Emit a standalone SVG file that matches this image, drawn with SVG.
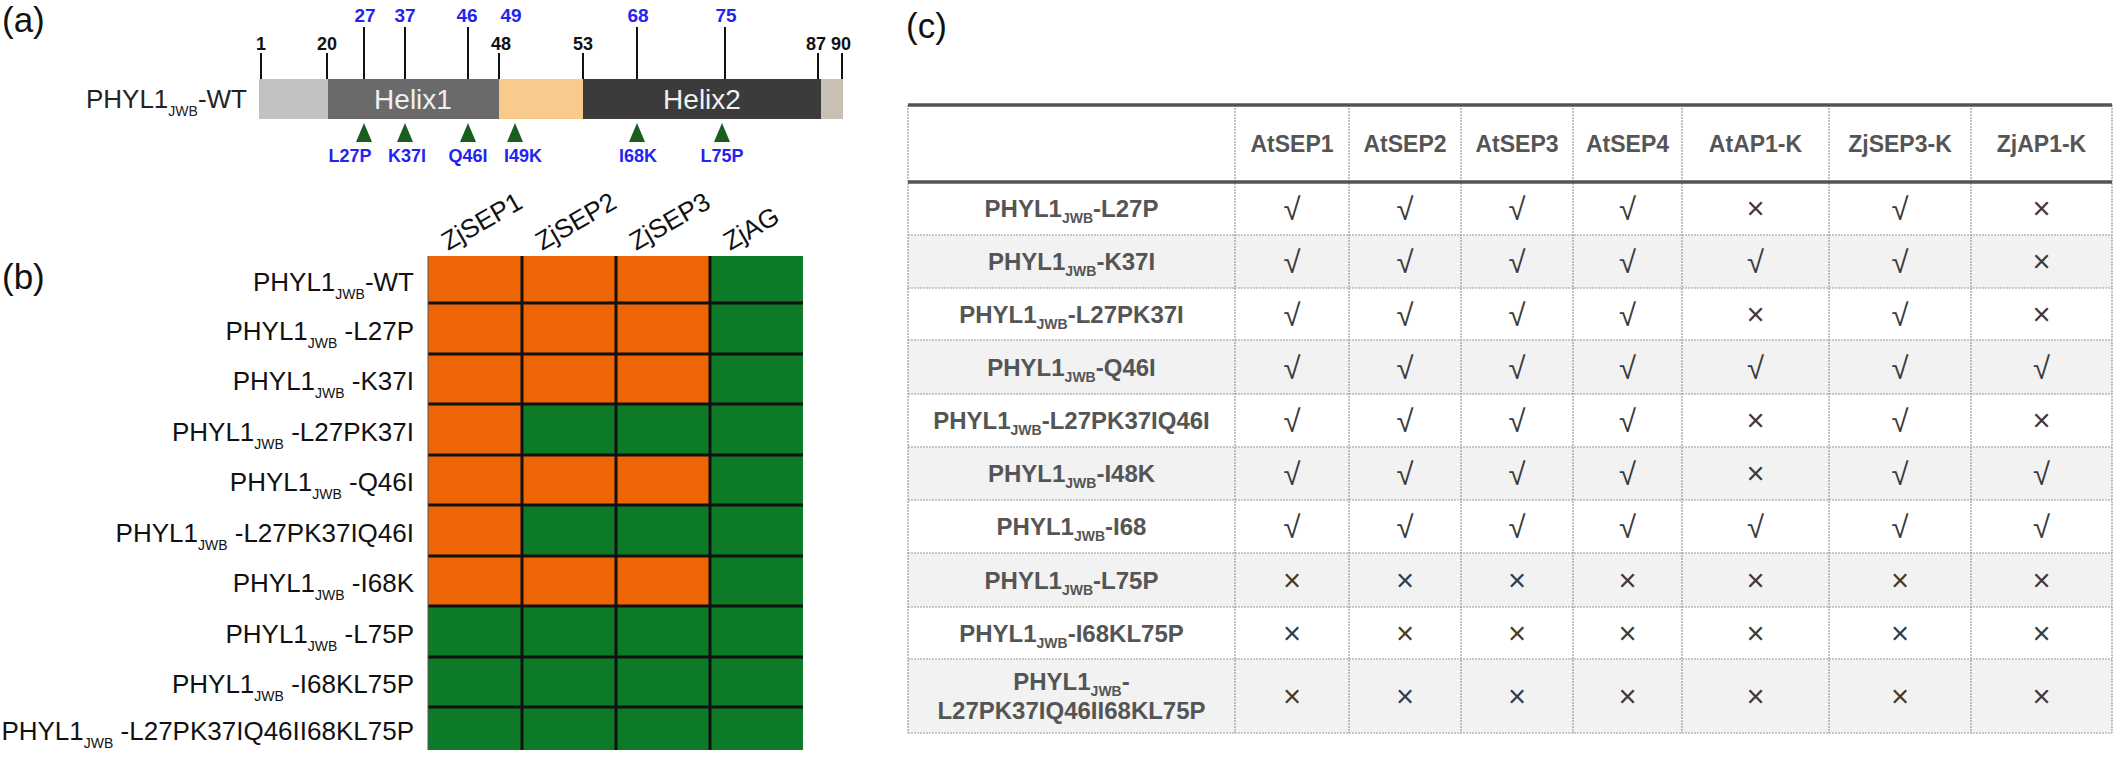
<svg xmlns="http://www.w3.org/2000/svg" width="2118" height="759" viewBox="0 0 2118 759">
<style>
text{font-family:"Liberation Sans",Arial,"DejaVu Sans",sans-serif}
.pl{font-size:35px;fill:#111}
.bn{font-size:19px;font-weight:bold;fill:#2424f0;text-anchor:middle}
.kn{font-size:18px;font-weight:bold;fill:#111;text-anchor:middle}
.ml{font-size:18px;font-weight:bold;fill:#2424f0;text-anchor:middle}
.tk{stroke:#111;stroke-width:2}
.tri{fill:#1a5e1e}
.hx{font-size:28px;fill:#f0f0f0;text-anchor:middle}
.rl{font-size:26px;fill:#111;text-anchor:end}
.sub{font-size:14px}
.ch{font-size:26px;fill:#111}
.o{fill:#ed6505}
.g{fill:#0c7a26}
.gl{stroke:#111;stroke-width:3}
.th{font-size:23px;font-weight:bold;fill:#555;text-anchor:middle}
.tl{font-size:24px;font-weight:bold;fill:#555;text-anchor:middle}
.tsub{font-size:14px}
.mk{font-size:31px;fill:#3a3a3a;text-anchor:middle}
.dl{stroke:#9a9a9a;stroke-width:1.2;stroke-dasharray:2 1}
.tb{stroke:#555;stroke-width:3.5}
</style>

<g id="panel-a">
  <text class="pl" x="2" y="32">(a)</text>
  <text x="247" y="108" style="font-size:26px;fill:#222;text-anchor:end">PHYL1<tspan class="sub" dy="8">JWB</tspan><tspan dy="-8">-WT</tspan></text>
  <g id="protein-bar">
    <rect x="259" y="79" width="69" height="40" fill="#c2c2c2"/>
    <rect x="328" y="79" width="171" height="40" fill="#6a6a6a"/>
    <rect x="499" y="79" width="84" height="40" fill="#f8ca8c"/>
    <rect x="583" y="79" width="238" height="40" fill="#3b3b3b"/>
    <rect x="821" y="79" width="22" height="40" fill="#c9c0b4"/>
    <text class="hx" x="413" y="109">Helix1</text>
    <text class="hx" x="702" y="109">Helix2</text>
  </g>
  <g id="ticks">
    <line class="tk" x1="261" y1="53" x2="261" y2="79"/>
    <line class="tk" x1="327" y1="53" x2="327" y2="79"/>
    <line class="tk" x1="499" y1="53" x2="499" y2="79"/>
    <line class="tk" x1="583" y1="53" x2="583" y2="79"/>
    <line class="tk" x1="818" y1="53" x2="818" y2="79"/>
    <line class="tk" x1="842" y1="53" x2="842" y2="79"/>
    <line class="tk" x1="364" y1="27" x2="364" y2="79"/>
    <line class="tk" x1="405" y1="27" x2="405" y2="79"/>
    <line class="tk" x1="468" y1="27" x2="468" y2="79"/>
    <line class="tk" x1="637" y1="27" x2="637" y2="79"/>
    <line class="tk" x1="725" y1="27" x2="725" y2="79"/>
    <text class="kn" x="261" y="50">1</text>
    <text class="kn" x="327" y="50">20</text>
    <text class="kn" x="501" y="50">48</text>
    <text class="kn" x="583" y="50">53</text>
    <text class="kn" x="816" y="50">87</text>
    <text class="kn" x="841" y="50">90</text>
    <text class="bn" x="365" y="22">27</text>
    <text class="bn" x="405" y="22">37</text>
    <text class="bn" x="467" y="22">46</text>
    <text class="bn" x="511" y="22">49</text>
    <text class="bn" x="638" y="22">68</text>
    <text class="bn" x="726" y="22">75</text>
  </g>
  <g id="mutations">
    <polygon class="tri" points="356,142 372,142 364,123"/>
    <polygon class="tri" points="397,142 413,142 405,123"/>
    <polygon class="tri" points="460,142 476,142 468,123"/>
    <polygon class="tri" points="507,142 523,142 515,123"/>
    <polygon class="tri" points="629,142 645,142 637,123"/>
    <polygon class="tri" points="714,142 730,142 722,123"/>
    <text class="ml" x="350" y="162">L27P</text>
    <text class="ml" x="407" y="162">K37I</text>
    <text class="ml" x="468" y="162">Q46I</text>
    <text class="ml" x="523" y="162">I49K</text>
    <text class="ml" x="638" y="162">I68K</text>
    <text class="ml" x="722" y="162">L75P</text>
  </g>
</g>

<g id="panel-b">
  <text class="pl" x="2" y="289">(b)</text>
  <g id="col-headers">
    <text class="ch" transform="translate(448,251) rotate(-30)">ZjSEP1</text>
    <text class="ch" transform="translate(542,251) rotate(-30)">ZjSEP2</text>
    <text class="ch" transform="translate(636,251) rotate(-30)">ZjSEP3</text>
    <text class="ch" transform="translate(730,251) rotate(-30)">ZjAG</text>
  </g>
  <g id="heatmap">
    <rect class="g" x="428" y="256" width="375" height="494"/>
    <rect class="o" x="428" y="256" width="282" height="148"/>
    <rect class="o" x="428" y="404" width="94" height="51"/>
    <rect class="o" x="428" y="455" width="282" height="50"/>
    <rect class="o" x="428" y="505" width="94" height="51"/>
    <rect class="o" x="428" y="556" width="282" height="50"/>
    <line class="gl" x1="522" y1="256" x2="522" y2="750"/>
    <line class="gl" x1="616" y1="256" x2="616" y2="750"/>
    <line class="gl" x1="710" y1="256" x2="710" y2="750"/>
    <line class="gl" x1="428" y1="303" x2="803" y2="303"/>
    <line class="gl" x1="428" y1="354" x2="803" y2="354"/>
    <line class="gl" x1="428" y1="404" x2="803" y2="404"/>
    <line class="gl" x1="428" y1="455" x2="803" y2="455"/>
    <line class="gl" x1="428" y1="505" x2="803" y2="505"/>
    <line class="gl" x1="428" y1="556" x2="803" y2="556"/>
    <line class="gl" x1="428" y1="606" x2="803" y2="606"/>
    <line class="gl" x1="428" y1="657" x2="803" y2="657"/>
    <line class="gl" x1="428" y1="707" x2="803" y2="707"/>
    <line x1="428" y1="256" x2="428" y2="750" stroke="#555" stroke-width="1"/>
  </g>
  <g id="row-labels">
    <text class="rl" x="414" y="291">PHYL1<tspan class="sub" dy="8">JWB</tspan><tspan dy="-8">-WT</tspan></text>
    <text class="rl" x="414" y="340">PHYL1<tspan class="sub" dy="8">JWB</tspan><tspan dy="-8"> -L27P</tspan></text>
    <text class="rl" x="414" y="390">PHYL1<tspan class="sub" dy="8">JWB</tspan><tspan dy="-8"> -K37I</tspan></text>
    <text class="rl" x="414" y="441">PHYL1<tspan class="sub" dy="8">JWB</tspan><tspan dy="-8"> -L27PK37I</tspan></text>
    <text class="rl" x="414" y="491">PHYL1<tspan class="sub" dy="8">JWB</tspan><tspan dy="-8"> -Q46I</tspan></text>
    <text class="rl" x="414" y="542">PHYL1<tspan class="sub" dy="8">JWB</tspan><tspan dy="-8"> -L27PK37IQ46I</tspan></text>
    <text class="rl" x="414" y="592">PHYL1<tspan class="sub" dy="8">JWB</tspan><tspan dy="-8"> -I68K</tspan></text>
    <text class="rl" x="414" y="643">PHYL1<tspan class="sub" dy="8">JWB</tspan><tspan dy="-8"> -L75P</tspan></text>
    <text class="rl" x="414" y="693">PHYL1<tspan class="sub" dy="8">JWB</tspan><tspan dy="-8"> -I68KL75P</tspan></text>
    <text class="rl" x="414" y="740">PHYL1<tspan class="sub" dy="8">JWB</tspan><tspan dy="-8"> -L27PK37IQ46II68KL75P</tspan></text>
  </g>
</g>

<g id="panel-c">
  <text class="pl" x="906" y="38">(c)</text>
  <g id="table-bg">
    <rect x="908" y="105" width="1204" height="628" fill="#ffffff"/>
    <rect x="908" y="235" width="1204" height="53" fill="#f2f2f2"/>
    <rect x="908" y="340" width="1204" height="54" fill="#f2f2f2"/>
    <rect x="908" y="447" width="1204" height="53" fill="#f2f2f2"/>
    <rect x="908" y="553" width="1204" height="54" fill="#f2f2f2"/>
    <rect x="908" y="659" width="1204" height="74" fill="#f2f2f2"/>
  </g>
  <g id="table-lines">
    <line class="dl" x1="908" y1="105" x2="908" y2="733"/>
    <line class="dl" x1="1235" y1="105" x2="1235" y2="733"/>
    <line class="dl" x1="1349" y1="105" x2="1349" y2="733"/>
    <line class="dl" x1="1461" y1="105" x2="1461" y2="733"/>
    <line class="dl" x1="1573" y1="105" x2="1573" y2="733"/>
    <line class="dl" x1="1682" y1="105" x2="1682" y2="733"/>
    <line class="dl" x1="1829" y1="105" x2="1829" y2="733"/>
    <line class="dl" x1="1971" y1="105" x2="1971" y2="733"/>
    <line class="dl" x1="2112" y1="105" x2="2112" y2="733"/>
    <line class="dl" x1="908" y1="235" x2="2112" y2="235"/>
    <line class="dl" x1="908" y1="288" x2="2112" y2="288"/>
    <line class="dl" x1="908" y1="340" x2="2112" y2="340"/>
    <line class="dl" x1="908" y1="394" x2="2112" y2="394"/>
    <line class="dl" x1="908" y1="447" x2="2112" y2="447"/>
    <line class="dl" x1="908" y1="500" x2="2112" y2="500"/>
    <line class="dl" x1="908" y1="553" x2="2112" y2="553"/>
    <line class="dl" x1="908" y1="607" x2="2112" y2="607"/>
    <line class="dl" x1="908" y1="659" x2="2112" y2="659"/>
    <line class="dl" x1="908" y1="733" x2="2112" y2="733"/>
    <line class="tb" x1="908" y1="105" x2="2112" y2="105"/>
    <line class="tb" x1="908" y1="182" x2="2112" y2="182"/>
  </g>
  <g id="table-header">
    <text class="th" x="1292" y="152">AtSEP1</text>
    <text class="th" x="1405" y="152">AtSEP2</text>
    <text class="th" x="1517" y="152">AtSEP3</text>
    <text class="th" x="1627.5" y="152">AtSEP4</text>
    <text class="th" x="1755.5" y="152">AtAP1-K</text>
    <text class="th" x="1900" y="152">ZjSEP3-K</text>
    <text class="th" x="2041.5" y="152">ZjAP1-K</text>
  </g>
  <g id="table-rows">
    <text class="tl" x="1071.5" y="217">PHYL1<tspan class="tsub" dy="6">JWB</tspan><tspan dy="-6">-L27P</tspan></text>
    <text class="tl" x="1071.5" y="270">PHYL1<tspan class="tsub" dy="6">JWB</tspan><tspan dy="-6">-K37I</tspan></text>
    <text class="tl" x="1071.5" y="322.5">PHYL1<tspan class="tsub" dy="6">JWB</tspan><tspan dy="-6">-L27PK37I</tspan></text>
    <text class="tl" x="1071.5" y="375.5">PHYL1<tspan class="tsub" dy="6">JWB</tspan><tspan dy="-6">-Q46I</tspan></text>
    <text class="tl" x="1071.5" y="429">PHYL1<tspan class="tsub" dy="6">JWB</tspan><tspan dy="-6">-L27PK37IQ46I</tspan></text>
    <text class="tl" x="1071.5" y="482">PHYL1<tspan class="tsub" dy="6">JWB</tspan><tspan dy="-6">-I48K</tspan></text>
    <text class="tl" x="1071.5" y="535">PHYL1<tspan class="tsub" dy="6">JWB</tspan><tspan dy="-6">-I68</tspan></text>
    <text class="tl" x="1071.5" y="588.5">PHYL1<tspan class="tsub" dy="6">JWB</tspan><tspan dy="-6">-L75P</tspan></text>
    <text class="tl" x="1071.5" y="641.5">PHYL1<tspan class="tsub" dy="6">JWB</tspan><tspan dy="-6">-I68KL75P</tspan></text>
    <text class="tl" x="1071.5" y="690">PHYL1<tspan class="tsub" dy="6">JWB</tspan><tspan dy="-6">-</tspan></text>
    <text class="tl" x="1071.5" y="719">L27PK37IQ46II68KL75P</text>
  </g>
  <g id="table-marks">
    <text class="mk" x="1292" y="220">√</text><text class="mk" x="1405" y="220">√</text><text class="mk" x="1517" y="220">√</text><text class="mk" x="1627.5" y="220">√</text><text class="mk" x="1755.5" y="219">×</text><text class="mk" x="1900" y="220">√</text><text class="mk" x="2041.5" y="219">×</text>
    <text class="mk" x="1292" y="273">√</text><text class="mk" x="1405" y="273">√</text><text class="mk" x="1517" y="273">√</text><text class="mk" x="1627.5" y="273">√</text><text class="mk" x="1755.5" y="273">√</text><text class="mk" x="1900" y="273">√</text><text class="mk" x="2041.5" y="272">×</text>
    <text class="mk" x="1292" y="325.5">√</text><text class="mk" x="1405" y="325.5">√</text><text class="mk" x="1517" y="325.5">√</text><text class="mk" x="1627.5" y="325.5">√</text><text class="mk" x="1755.5" y="324.5">×</text><text class="mk" x="1900" y="325.5">√</text><text class="mk" x="2041.5" y="324.5">×</text>
    <text class="mk" x="1292" y="378.5">√</text><text class="mk" x="1405" y="378.5">√</text><text class="mk" x="1517" y="378.5">√</text><text class="mk" x="1627.5" y="378.5">√</text><text class="mk" x="1755.5" y="378.5">√</text><text class="mk" x="1900" y="378.5">√</text><text class="mk" x="2041.5" y="378.5">√</text>
    <text class="mk" x="1292" y="432">√</text><text class="mk" x="1405" y="432">√</text><text class="mk" x="1517" y="432">√</text><text class="mk" x="1627.5" y="432">√</text><text class="mk" x="1755.5" y="431">×</text><text class="mk" x="1900" y="432">√</text><text class="mk" x="2041.5" y="431">×</text>
    <text class="mk" x="1292" y="485">√</text><text class="mk" x="1405" y="485">√</text><text class="mk" x="1517" y="485">√</text><text class="mk" x="1627.5" y="485">√</text><text class="mk" x="1755.5" y="484">×</text><text class="mk" x="1900" y="485">√</text><text class="mk" x="2041.5" y="485">√</text>
    <text class="mk" x="1292" y="538">√</text><text class="mk" x="1405" y="538">√</text><text class="mk" x="1517" y="538">√</text><text class="mk" x="1627.5" y="538">√</text><text class="mk" x="1755.5" y="538">√</text><text class="mk" x="1900" y="538">√</text><text class="mk" x="2041.5" y="538">√</text>
    <text class="mk" x="1292" y="591">×</text><text class="mk" x="1405" y="591">×</text><text class="mk" x="1517" y="591">×</text><text class="mk" x="1627.5" y="591">×</text><text class="mk" x="1755.5" y="591">×</text><text class="mk" x="1900" y="591">×</text><text class="mk" x="2041.5" y="591">×</text>
    <text class="mk" x="1292" y="644">×</text><text class="mk" x="1405" y="644">×</text><text class="mk" x="1517" y="644">×</text><text class="mk" x="1627.5" y="644">×</text><text class="mk" x="1755.5" y="644">×</text><text class="mk" x="1900" y="644">×</text><text class="mk" x="2041.5" y="644">×</text>
    <text class="mk" x="1292" y="707">×</text><text class="mk" x="1405" y="707">×</text><text class="mk" x="1517" y="707">×</text><text class="mk" x="1627.5" y="707">×</text><text class="mk" x="1755.5" y="707">×</text><text class="mk" x="1900" y="707">×</text><text class="mk" x="2041.5" y="707">×</text>
  </g>
</g>
</svg>
